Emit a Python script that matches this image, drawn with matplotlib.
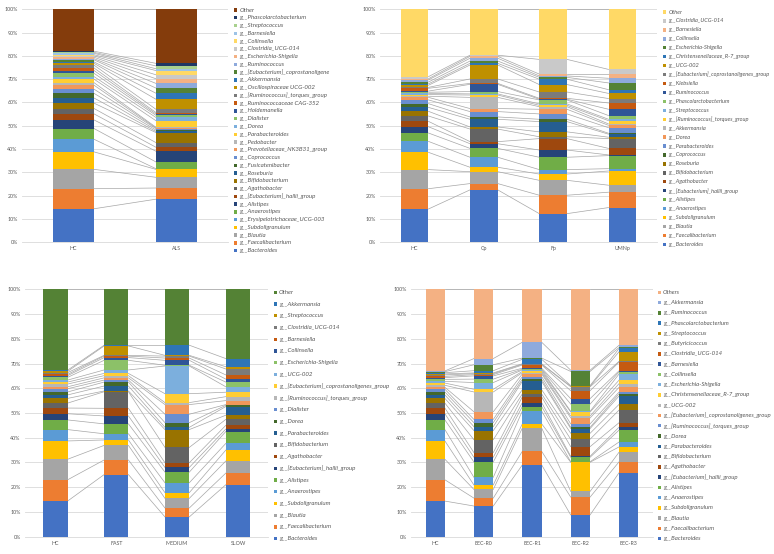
import numpy as np
import matplotlib
matplotlib.use("Agg")
import matplotlib.pyplot as plt
from matplotlib.patches import Rectangle

plt.rcParams['font.family'] = ['Lato', 'DejaVu Sans']

W, H = 774, 554

# ---- panel 1: HC vs ALS (cumulative tops, %) ----
p1_groups = ["HC", "ALS"]
p1_taxa = ["g__Bacteroides", "g__Faecalibacterium", "g__Blautia", "g__Subdoligranulum",
           "g__Erysipelotrichaceae_UCG-003", "g__Anaerostipes", "g__Alistipes",
           "g__[Eubacterium]_hallii_group", "g__Agathobacter", "g__Bifidobacterium",
           "g__Roseburia", "g__Fusicatenibacter", "g__Coprococcus",
           "g__Prevotellaceae_NK3B31_group", "g__Pedobacter", "g__Parabacteroides",
           "g__Dorea", "g__Dialister", "g__Holdemanella", "g__Ruminococcaceae CAG-352",
           "g__[Ruminococcus]_torques_group", "g__Oscillospiraceae UCG-002",
           "g__Akkermansia", "g__[Eubacterium]_coprostanoligene", "g__Ruminococcus",
           "g__Escherichia-Shigella", "g__Clostridia_UCG-014", "g__Collinsella",
           "g__Barnesiella", "g__Streptococcus", "g__Phascolarctobacterium", "Other"]
p1_colors = ["#4472C4", "#ED7D31", "#A5A5A5", "#FFC000", "#5B9BD5", "#70AD47",
             "#264478", "#9E480E", "#636363", "#997300", "#255E91", "#43682B",
             "#698ED0", "#F1975A", "#B7B7B7", "#FFCD33", "#7CAFDD", "#8CC168",
             "#2F5597", "#C55A11", "#7B7B7B", "#BF9000", "#2E75B6", "#548235",
             "#8FAADC", "#F4B183", "#C9C9C9", "#FFD966", "#9DC3E6", "#A9D18E",
             "#1F3864", "#843C0C"]
p1_hc = [14.4, 23.0, 31.3, 38.8, 44.2, 48.8, 52.5, 55.1, 57.4, 59.7, 61.9, 63.9, 65.7,
         67.4, 68.5, 70.0, 71.1, 72.5, 73.7, 74.8, 76.0, 76.8, 77.4, 78.3, 78.8, 79.4,
         80.0, 80.5, 81.1, 81.5, 82.0, 100]
p1_als = [18.5, 23.3, 27.9, 31.3, 31.6, 34.5, 39.1, 40.8, 42.8, 47.1, 47.6, 48.2, 48.8,
          49.1, 49.4, 52.2, 53.6, 54.5, 55.1, 55.7, 57.1, 61.4, 64.0, 66.2, 68.2, 70.2,
          71.9, 73.7, 74.5, 75.7, 76.8, 100]

# ---- panel 2: HC / Cp / Fp / UMNp ----
p2_groups = ["HC", "Cp", "Fp", "UMNp"]
p2_taxa = ["g__Bacteroides", "g__Faecalibacterium", "g__Blautia", "g__Subdoligranulum",
           "g__Anaerostipes", "g__Alistipes", "g__[Eubacterium]_hallii_group",
           "g__Agathobacter", "g__Bifidobacterium", "g__Roseburia", "_unlabelled",
           "g__Coprococcus", "g__Parabacteroides", "g__Dorea", "g__Akkermansia",
           "g__[Ruminococcus]_torques_group", "g__Streptococcus",
           "g__Phascolarctobacterium", "g__Ruminococcus", "g__Klebsiella",
           "g__[Eubacterium]_coprostanoligenes_group", "g__UCG-002",
           "g__Christensenellaceae_R-7_group", "g__Escherichia-Shigella",
           "g__Collinsella", "g__Barnesiella", "g__Clostridia_UCG-014", "Other"]
p2_colors = ["#4472C4", "#ED7D31", "#A5A5A5", "#FFC000", "#5B9BD5", "#70AD47",
             "#264478", "#9E480E", "#636363", "#997300", "#255E91", "#43682B",
             "#698ED0", "#F1975A", "#B7B7B7", "#FFCD33", "#7CAFDD", "#8CC168",
             "#2F5597", "#C55A11", "#7B7B7B", "#BF9000", "#2E75B6", "#548235",
             "#8FAADC", "#F4B183", "#C9C9C9", "#FFD966"]
p2_hc = [14.3, 23.0, 31.2, 38.6, 43.3, 46.9, 49.6, 51.9, 54.2, 56.2, 57.9, 59.5, 61.1,
         62.2, 62.7, 63.4, 63.9, 64.4, 64.9, 66.1, 66.5, 67.4, 68.0, 68.8, 69.7, 70.2,
         71.1, 100]
p2_cp = [22.5, 25.2, 30.3, 32.2, 36.5, 40.3, 42.3, 43.2, 48.6, 49.5, 52.8, 53.8, 56.1,
         57.4, 62.2, 63.2, 63.7, 64.7, 67.8, 68.2, 70.1, 76.1, 76.8, 77.8, 79.0, 79.8,
         80.3, 100]
p2_fp = [12.3, 20.2, 26.6, 29.3, 31.2, 36.5, 39.6, 44.5, 45.3, 47.4, 51.8, 52.8, 55.1,
         57.1, 58.2, 58.8, 59.4, 61.1, 61.4, 61.8, 64.5, 67.7, 70.0, 70.8, 71.4, 72.2,
         78.5, 100]
p2_umnp = [14.9, 21.5, 24.5, 30.6, 31.6, 37.2, 37.5, 40.3, 44.5, 45.1, 46.4, 46.8, 49.2,
           50.2, 50.8, 52.2, 52.8, 54.4, 57.1, 59.8, 61.7, 63.9, 65.5, 68.4, 70.4, 72.2,
           74.2, 100]

# ---- panel 3: HC / FAST / MEDIUM / SLOW ----
p3_groups = ["HC", "FAST", "MEDIUM", "SLOW"]
p3_taxa = ["g__Bacteroides", "g__Faecalibacterium", "g__Blautia", "g__Subdoligranulum",
           "g__Anaerostipes", "g__Alistipes", "g__[Eubacterium]_hallii_group",
           "g__Agathobacter", "g__Bifidobacterium", "_unlabelled1", "g__Parabacteroides",
           "g__Dorea", "g__Dialister", "_unlabelled2", "g__[Ruminococcus]_torques_group",
           "g__[Eubacterium]_coprostanoligenes_group", "g__UCG-002",
           "g__Escherichia-Shigella", "g__Collinsella", "g__Barnesiella",
           "g__Clostridia_UCG-014", "g__Streptococcus", "g__Akkermansia", "Other"]
p3_colors = ["#4472C4", "#ED7D31", "#A5A5A5", "#FFC000", "#5B9BD5", "#70AD47",
             "#264478", "#9E480E", "#636363", "#997300", "#255E91", "#43682B",
             "#698ED0", "#F1975A", "#B7B7B7", "#FFCD33", "#7CAFDD", "#8CC168",
             "#2F5597", "#C55A11", "#7B7B7B", "#BF9000", "#2E75B6", "#548235"]
p3_hc = [14.4, 23.0, 31.3, 38.7, 43.3, 47.2, 49.7, 52.0, 54.0, 55.9, 57.3, 58.5, 59.8,
         60.6, 61.7, 62.5, 63.3, 64.4, 65.1, 65.6, 66.3, 66.8, 67.3, 100]
p3_fast = [25.1, 31.0, 36.9, 39.1, 41.6, 45.6, 48.8, 51.9, 58.6, 58.9, 60.9, 62.5, 63.3,
           64.2, 65.1, 66.0, 67.4, 71.3, 72.4, 73.0, 73.3, 77.1, 77.4, 100]
p3_medium = [8.0, 11.6, 15.5, 17.8, 21.8, 26.1, 28.0, 29.9, 36.1, 43.3, 44.2, 46.1, 49.5,
             53.4, 54.2, 57.8, 69.0, 69.3, 71.3, 72.2, 73.0, 73.3, 77.4, 100]
p3_slow = [21.0, 25.7, 30.6, 35.0, 37.7, 42.5, 43.5, 45.0, 47.4, 49.1, 52.6, 53.1, 53.4,
           55.0, 56.6, 58.4, 60.6, 62.5, 63.7, 65.4, 67.8, 68.7, 72.0, 100]

# ---- panel 4: HC / EEC-R0..R3 ----
p4_groups = ["HC", "EEC-R0", "EEC-R1", "EEC-R2", "EEC-R3"]
p4_taxa = ["g__Bacteroides", "g__Faecalibacterium", "g__Blautia", "g__Subdoligranulum",
           "g__Anaerostipes", "g__Alistipes", "g__[Eubacterium]_hallii_group",
           "g__Agathobacter", "g__Bifidobacterium", "_unlabelled", "g__Parabacteroides",
           "g__Dorea", "g__[Ruminococcus]_torques_group",
           "g__[Eubacterium]_coprostanoligenes_group", "g__UCG-002",
           "g__Christensenellaceae_R-7_group", "g__Escherichia-Shigella",
           "g__Collinsella", "g__Barnesiella", "g__Clostridia_UCG-014",
           "g__Butyricicoccus", "g__Streptococcus", "g__Phascolarctobacterium",
           "g__Ruminococcus", "g__Akkermansia", "Others"]
p4_colors = ["#4472C4", "#ED7D31", "#A5A5A5", "#FFC000", "#5B9BD5", "#70AD47",
             "#264478", "#9E480E", "#636363", "#997300", "#255E91", "#43682B",
             "#698ED0", "#F1975A", "#B7B7B7", "#FFCD33", "#7CAFDD", "#8CC168",
             "#2F5597", "#C55A11", "#7B7B7B", "#BF9000", "#2E75B6", "#548235",
             "#8FAADC", "#F4B183"]
p4_hc = [14.4, 23.0, 31.3, 38.7, 43.3, 47.2, 49.7, 52.0, 54.0, 55.9, 57.3, 58.5, 59.6,
         60.4, 61.2, 62.1, 62.8, 63.6, 64.3, 64.8, 65.4, 65.8, 66.3, 66.7, 67.0, 100]
p4_r0 = [12.4, 15.6, 19.1, 20.9, 24.0, 30.2, 32.1, 34.0, 39.2, 42.9, 44.5, 46.1, 47.4,
         50.5, 58.5, 59.6, 62.3, 63.7, 65.0, 65.5, 65.9, 66.2, 67.1, 69.5, 72.0, 100]
p4_r1 = [29.0, 34.5, 43.9, 45.6, 50.8, 52.6, 54.2, 56.5, 57.7, 59.4, 62.8, 63.6, 64.7,
         65.8, 66.3, 66.8, 67.4, 67.7, 68.1, 69.4, 69.7, 69.9, 71.7, 72.2, 78.6, 100]
p4_r2 = [8.8, 16.0, 18.3, 30.1, 30.3, 32.1, 32.5, 36.4, 39.4, 41.8, 43.7, 44.2, 45.6,
         48.0, 48.8, 50.4, 50.7, 53.6, 55.8, 59.0, 60.6, 60.8, 61.1, 66.8, 67.3, 100]
p4_r3 = [25.9, 30.3, 34.2, 36.3, 38.3, 43.1, 44.3, 46.1, 51.2, 53.5, 56.9, 57.8, 58.5,
         60.4, 61.9, 63.3, 65.8, 66.6, 67.1, 70.6, 70.9, 74.8, 76.1, 76.5, 77.4, 100]

TXT = "#595959"
fig = plt.figure(figsize=(W / 100, H / 100), dpi=100)


def px_rect(left, top, right, bottom):
    return [left / W, 1 - bottom / H, (right - left) / W, (bottom - top) / H]


def draw_panel(rect, groups, taxa, colors, tops, leg_x, leg_y0, leg_y1, leg_fs):
    ax = fig.add_axes(rect)
    tops = np.array(tops, dtype=float)
    vals = np.diff(np.hstack([np.zeros((len(groups), 1)), tops]), axis=1)
    x = np.arange(len(groups))
    w = 0.4
    for j in range(len(taxa)):
        ax.bar(x, vals[:, j], w, bottom=tops[:, j] - vals[:, j], color=colors[j],
               linewidth=0, zorder=3)
        # series lines between neighbouring bars
        for i in range(len(groups) - 1):
            ax.plot([x[i] + w / 2, x[i + 1] - w / 2], [tops[i, j], tops[i + 1, j]],
                    color="#A6A6A6", lw=0.5, zorder=2)
    ax.set_xlim(-0.5, len(groups) - 0.5)
    ax.set_ylim(0, 100)
    ax.set_yticks(range(0, 101, 10))
    ax.set_yticklabels([f"{v}%" for v in range(0, 101, 10)])
    ax.set_xticks(x)
    ax.set_xticklabels(groups)
    ax.yaxis.grid(True, color="#D9D9D9", lw=0.6, zorder=0)
    ax.set_axisbelow(True)
    for s in ["top", "right", "left"]:
        ax.spines[s].set_visible(False)
    ax.spines["bottom"].set_color("#D9D9D9")
    ax.spines["bottom"].set_linewidth(0.6)
    ax.tick_params(length=0, labelsize=3.8, colors=TXT)
    ax.tick_params(axis="x", pad=3)
    ax.tick_params(axis="y", pad=3)

    # legend: top entry is the last series
    entries = [(t, c) for t, c in zip(taxa, colors) if not t.startswith("_")][::-1]
    ys = np.linspace(leg_y0, leg_y1, len(entries))
    sq = 3.4
    for (t, c), y in zip(entries, ys):
        fig.add_artist(Rectangle(((leg_x) / W, 1 - (y + sq / 2) / H), sq / W, sq / H,
                                 transform=fig.transFigure, color=c, lw=0))
        fig.text((leg_x + sq + 2) / W, 1 - y / H, t, fontsize=leg_fs, style="italic",
                 color=TXT, va="center", ha="left")
    return ax


draw_panel(px_rect(22, 9.3, 228, 242.3), p1_groups, p1_taxa, p1_colors,
           [p1_hc, p1_als], 234, 10, 250.7, 4.4)
draw_panel(px_rect(380, 9.3, 657, 242.3), p2_groups, p2_taxa, p2_colors,
           [p2_hc, p2_cp, p2_fp, p2_umnp], 663, 12, 244.3, 4.1)
draw_panel(px_rect(25, 289.3, 268.4, 536.7), p3_groups, p3_taxa, p3_colors,
           [p3_hc, p3_fast, p3_medium, p3_slow], 273.5, 292.3, 538.7, 4.4)
draw_panel(px_rect(411, 289.3, 653, 536.7), p4_groups, p4_taxa, p4_colors,
           [p4_hc, p4_r0, p4_r1, p4_r2, p4_r3], 657.5, 292.3, 538.7, 4.3)

fig.savefig("out.png", dpi=100)
